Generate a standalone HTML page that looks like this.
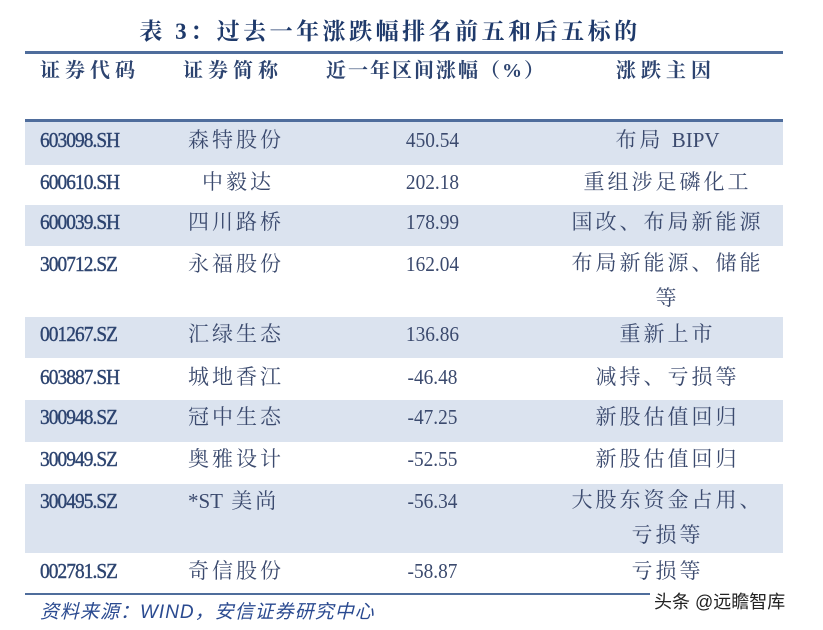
<!DOCTYPE html>
<html><head><meta charset="utf-8"><style>
body{margin:0;width:823px;height:630px;background:#fff;position:relative;overflow:hidden;font-family:"Liberation Serif","Noto Serif CJK SC",serif;color:#3b4a6e}
.a{position:absolute;white-space:nowrap;line-height:24px}
.t{font-weight:bold;font-size:23px;color:#1f3a6b;left:0;width:780px;text-align:center;top:20px;letter-spacing:3.5px}
.line{position:absolute;left:25px;width:758px;height:3px;background:#4f6d9c}
.sh{position:absolute;left:25px;width:758px;background:#dbe3ef}
.h{font-weight:bold;font-size:20px;color:#2d4470;top:59px;letter-spacing:5px}
.c{font-size:21px}
.code{left:40px;color:#2d4470;letter-spacing:-1px;-webkit-text-stroke:0.4px #2d4470;transform:scaleX(0.92);transform-origin:left}
.nm{left:188px;letter-spacing:3px}
.v{left:360px;width:145px;text-align:center;transform:scaleX(0.92)}
.r{left:560px;width:215px;text-align:center;letter-spacing:3px}
.r2{line-height:35px}
.l{letter-spacing:0}
</style></head><body>
<div class="a t">表 3：过去一年涨跌幅排名前五和后五标的</div>
<div class="line" style="top:51px"></div>
<div class="a h" style="left:40px">证券代码</div>
<div class="a h" style="left:183px">证券简称</div>
<div class="a h" style="left:326px;letter-spacing:2px">近一年区间涨幅（%）</div>
<div class="a h" style="left:616px">涨跌主因</div>
<div class="line" style="top:119px"></div>
<div class="sh" style="top:122px;height:43px"></div>
<div class="sh" style="top:205px;height:41px"></div>
<div class="sh" style="top:317px;height:41px"></div>
<div class="sh" style="top:400px;height:42px"></div>
<div class="sh" style="top:484px;height:69px"></div>

<div class="a c code" style="top:128px">603098.SH</div><div class="a c nm" style="top:128px">森特股份</div><div class="a c v" style="top:128px">450.54</div><div class="a c r" style="top:128px">布局 <span class="l">BIPV</span></div>
<div class="a c code" style="top:170px">600610.SH</div><div class="a c nm" style="top:170px;left:202px">中毅达</div><div class="a c v" style="top:170px">202.18</div><div class="a c r" style="top:170px">重组涉足磷化工</div>
<div class="a c code" style="top:210px">600039.SH</div><div class="a c nm" style="top:210px">四川路桥</div><div class="a c v" style="top:210px">178.99</div><div class="a c r" style="top:210px">国改、布局新能源</div>
<div class="a c code" style="top:252px">300712.SZ</div><div class="a c nm" style="top:252px">永福股份</div><div class="a c v" style="top:252px">162.04</div><div class="a c r r2" style="top:246px">布局新能源、储能<br>等</div>
<div class="a c code" style="top:322px">001267.SZ</div><div class="a c nm" style="top:322px">汇绿生态</div><div class="a c v" style="top:322px">136.86</div><div class="a c r" style="top:322px">重新上市</div>
<div class="a c code" style="top:365px">603887.SH</div><div class="a c nm" style="top:365px">城地香江</div><div class="a c v" style="top:365px">-46.48</div><div class="a c r" style="top:365px">减持、亏损等</div>
<div class="a c code" style="top:405px">300948.SZ</div><div class="a c nm" style="top:405px">冠中生态</div><div class="a c v" style="top:405px">-47.25</div><div class="a c r" style="top:405px">新股估值回归</div>
<div class="a c code" style="top:447px">300949.SZ</div><div class="a c nm" style="top:447px">奥雅设计</div><div class="a c v" style="top:447px">-52.55</div><div class="a c r" style="top:447px">新股估值回归</div>
<div class="a c code" style="top:489px">300495.SZ</div><div class="a c nm" style="top:489px"><span class="l">*ST</span> 美尚</div><div class="a c v" style="top:489px">-56.34</div><div class="a c r r2" style="top:483px">大股东资金占用、<br>亏损等</div>
<div class="a c code" style="top:559px">002781.SZ</div><div class="a c nm" style="top:559px">奇信股份</div><div class="a c v" style="top:559px">-58.87</div><div class="a c r" style="top:559px">亏损等</div>
<div class="line" style="top:593px;height:2px"></div>
<div class="a" style="left:40px;top:601px;font-size:19px;font-style:italic;color:#2a4a90;letter-spacing:1px;font-family:'Liberation Sans','Noto Sans CJK SC',sans-serif">资料来源：WIND，安信证券研究中心</div>
<div class="a" style="left:650px;top:590px;font-size:18px;color:#222;background:#fff;padding:0 4px;font-family:'Liberation Sans','Noto Sans CJK SC',sans-serif">头条 @远瞻智库</div>
</body></html>
